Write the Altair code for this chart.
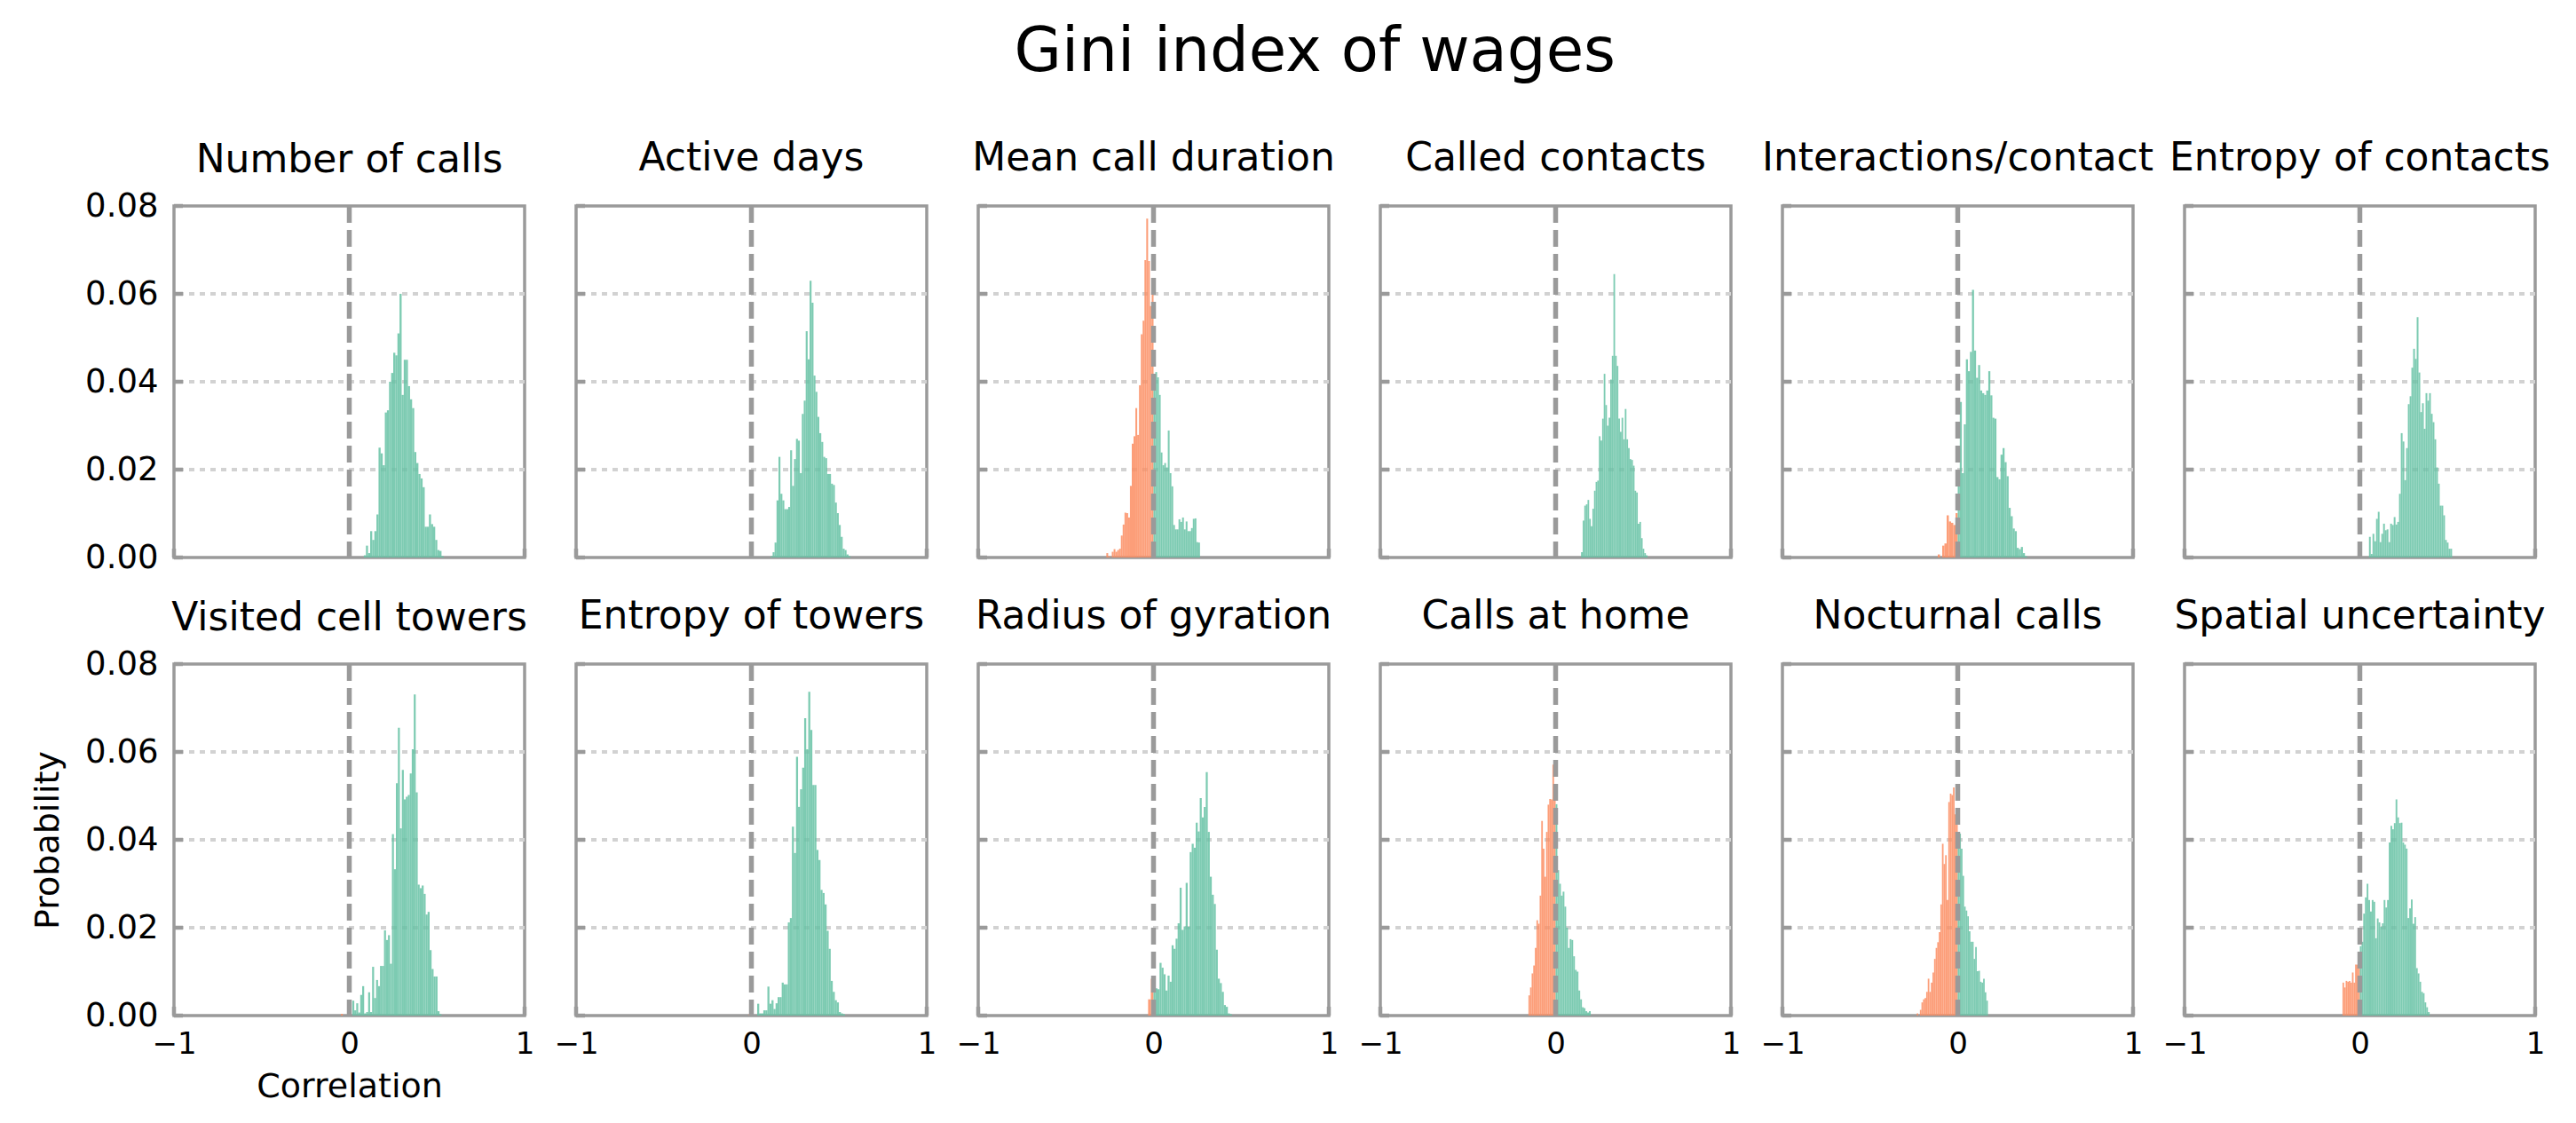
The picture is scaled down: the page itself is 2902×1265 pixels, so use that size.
import altair as alt
import pandas as pd

FONT = "DejaVu Sans"
GREEN = "#66c2a5"
ORANGE = "#fc8d62"
SPINE = "#9a9a9a"

SUPTITLE = "Gini index of wages"
X_TICKS = [-1, 0, 1]
Y_TICKS = [0.0, 0.02, 0.04, 0.06, 0.08]
GRID_LINES = [0.02, 0.04, 0.06]

# ---- histogram bar heights (probability per bin) ----
# each part: (range start, range end, heights left-to-right)
calls_pos = [0.0005, 0.0027, 0.001, 0.006, 0.004, 0.006, 0.0098, 0.025, 0.0237, 0.021, 0.033, 0.0335,
             0.040, 0.042, 0.0466, 0.046, 0.051, 0.060, 0.037, 0.045, 0.045, 0.039, 0.036, 0.034, 0.024,
             0.0215, 0.019, 0.018, 0.016, 0.007, 0.007, 0.0098, 0.0076, 0.007, 0.004, 0.0017, 0.0015, 0.0003]
days_pos = [0.0003, 0.0012, 0.0034, 0.013, 0.0229, 0.0145, 0.013, 0.011, 0.011, 0.0115, 0.0244, 0.0163,
            0.0224, 0.027, 0.0266, 0.0192, 0.0327, 0.0357, 0.0515, 0.0451, 0.063, 0.058, 0.0414, 0.0377,
            0.032, 0.0283, 0.0263, 0.0229, 0.0226, 0.019, 0.019, 0.0168, 0.0165, 0.0125, 0.0101, 0.0074,
            0.0047, 0.002, 0.0017, 0.0007, 0.0003]
duration_neg = [0.001, 0.0003, 0.0, 0.0013, 0.0019, 0.0013, 0.0017, 0.002, 0.005, 0.0075, 0.0102, 0.0101,
                0.0091, 0.0163, 0.0259, 0.0276, 0.034, 0.0279, 0.0392, 0.0508, 0.0539, 0.0677, 0.0771,
                0.0675, 0.0572, 0.0625]
duration_pos = [0.0418, 0.0422, 0.041, 0.037, 0.0239, 0.021, 0.0215, 0.0205, 0.0289, 0.0192, 0.0162, 0.0074,
                0.0064, 0.0064, 0.0087, 0.0081, 0.0091, 0.0064, 0.0082, 0.006, 0.006, 0.0067, 0.0088,
                0.0089, 0.0035, 0.0034]
contacts_pos = [0.0012, 0.0084, 0.0118, 0.0121, 0.0131, 0.0088, 0.0071, 0.0111, 0.0152, 0.0172, 0.0175,
                0.0276, 0.0266, 0.0316, 0.0418, 0.0347, 0.03, 0.0318, 0.0405, 0.0459, 0.0645, 0.0459,
                0.0436, 0.0316, 0.0286, 0.0318, 0.0269, 0.0338, 0.0269, 0.0249, 0.0224, 0.0222, 0.0209,
                0.0152, 0.0148, 0.0077, 0.0081, 0.0044, 0.002, 0.001, 0.0005]
interactions_neg = [0.0007, 0.0, 0.0027, 0.0032, 0.0096, 0.0082, 0.0079, 0.0074, 0.0101]
interactions_pos = [0.0189, 0.0354, 0.0192, 0.0303, 0.0451, 0.0424, 0.0468, 0.0609, 0.0471, 0.0409, 0.0438,
                    0.038, 0.0374, 0.037, 0.038, 0.0424, 0.0369, 0.0318, 0.0316, 0.0183, 0.0178, 0.0234,
                    0.0249, 0.0217, 0.0185, 0.0113, 0.0094, 0.0066, 0.006, 0.0022, 0.0019, 0.0024, 0.001,
                    0.0003]
entropy_contacts_pos = [0.0047, 0.0008, 0.0054, 0.0037, 0.0088, 0.0104, 0.0035, 0.0054, 0.0077, 0.0062,
                        0.0064, 0.0035, 0.0077, 0.0074, 0.0092, 0.0075, 0.0081, 0.0145, 0.0283, 0.0264,
                        0.0176, 0.0249, 0.0349, 0.0367, 0.0432, 0.0475, 0.0452, 0.0547, 0.0421, 0.0331,
                        0.0351, 0.0293, 0.0374, 0.0357, 0.0374, 0.0327, 0.0308, 0.0269, 0.0205, 0.0168,
                        0.0118, 0.0118, 0.0096, 0.004, 0.0034, 0.002, 0.002]
towers_neg = [0.0004]
towers_pos = [0.0034, 0.0012, 0.0028, 0.0007, 0.0047, 0.0067, 0.0005, 0.0008, 0.0053, 0.0008, 0.0111, 0.004,
              0.0081, 0.0067, 0.0113, 0.0113, 0.0194, 0.0172, 0.0183, 0.0118, 0.0413, 0.0333, 0.0529, 0.0655,
              0.0426, 0.0559, 0.0492, 0.0498, 0.0502, 0.0551, 0.0606, 0.0731, 0.0508, 0.0298, 0.029, 0.0296,
              0.0277, 0.023, 0.0236, 0.0149, 0.0106, 0.0089, 0.0089, 0.001, 0.0003]
entropy_towers_neg = [0.0003]
entropy_towers_pos = [0.0027, 0.0005, 0.0005, 0.0012, 0.0012, 0.0066, 0.0027, 0.0035, 0.0015, 0.0028, 0.0042,
                      0.0042, 0.0075, 0.0071, 0.0071, 0.0212, 0.0222, 0.043, 0.037, 0.0589, 0.0475, 0.0515,
                      0.0564, 0.0677, 0.0606, 0.0737, 0.065, 0.0525, 0.0525, 0.0377, 0.0354, 0.0286, 0.0279,
                      0.0253, 0.0193, 0.0152, 0.0079, 0.0054, 0.0035, 0.003, 0.0008, 0.0005, 0.0003]
gyration_neg = [0.0037, 0.0084]
gyration_pos = [0.0054, 0.0062, 0.006, 0.012, 0.0109, 0.0094, 0.0057, 0.0091, 0.0077, 0.016, 0.0152, 0.0175,
                0.021, 0.0291, 0.0195, 0.0203, 0.0302, 0.0202, 0.0372, 0.0391, 0.0382, 0.0439, 0.0419,
                0.0495, 0.0451, 0.0475, 0.0554, 0.0418, 0.0316, 0.0275, 0.0254, 0.015, 0.0084, 0.0074,
                0.0054, 0.0024, 0.002, 0.0005, 0.0003]
home_neg = [0.0046, 0.0064, 0.0096, 0.0114, 0.0154, 0.0217, 0.0209, 0.0273, 0.0443, 0.038, 0.0316, 0.0418,
            0.048, 0.0493, 0.0492, 0.0571, 0.0522]
home_pos = [0.0481, 0.0331, 0.03, 0.0273, 0.0282, 0.0248, 0.020, 0.0154, 0.0174, 0.0172, 0.0135, 0.0104,
            0.01, 0.0057, 0.0037, 0.0019, 0.0017, 0.001, 0.0007, 0.001]
nocturnal_neg = [0.0005, 0.0, 0.0013, 0.003, 0.0037, 0.004, 0.0054, 0.0084, 0.0054, 0.0075, 0.0098, 0.0129,
                 0.0154, 0.0167, 0.019, 0.0253, 0.0391, 0.0345, 0.0365, 0.0263, 0.0486, 0.0505, 0.0502,
                 0.0519, 0.0458, 0.0471]
nocturnal_pos = [0.0416, 0.0414, 0.038, 0.0318, 0.0248, 0.0239, 0.0226, 0.0192, 0.0168, 0.0168, 0.0129,
                 0.0156, 0.0101, 0.0102, 0.0077, 0.0075, 0.0084, 0.0053, 0.0034]
spatial_neg = [0.0075, 0.0064, 0.0079, 0.0077, 0.0079, 0.0075, 0.0098, 0.0075, 0.0116, 0.0116, 0.0128]
spatial_pos = [0.0158, 0.0168, 0.0232, 0.0269, 0.03, 0.0263, 0.0237, 0.0263, 0.0259, 0.0176, 0.0221, 0.0212,
               0.0202, 0.021, 0.0263, 0.0246, 0.0263, 0.0394, 0.0432, 0.0424, 0.0438, 0.0492, 0.0451,
               0.0438, 0.0439, 0.0394, 0.0389, 0.038, 0.0222, 0.0244, 0.0264, 0.0209, 0.0224, 0.0108,
               0.0096, 0.0077, 0.0054, 0.0051, 0.003, 0.0019, 0.0008]

PANELS = [
    ("Number of calls", [(0.083, 0.538, calls_pos)]),
    ("Active days", [(0.110, 0.565, days_pos)]),
    ("Mean call duration", [(-0.269, 0.0, duration_neg), (0.0, 0.265, duration_pos)]),
    ("Called contacts", [(0.145, 0.524, contacts_pos)]),
    ("Interactions/contact", [(-0.114, 0.0, interactions_neg), (0.0, 0.395, interactions_pos)]),
    ("Entropy of contacts", [(0.052, 0.526, entropy_contacts_pos)]),
    ("Visited cell towers", [(-0.047, -0.037, towers_neg), (0.017, 0.526, towers_pos)]),
    ("Entropy of towers", [(-0.015, -0.005, entropy_towers_neg), (0.033, 0.534, entropy_towers_pos)]),
    ("Radius of gyration", [(-0.031, 0.0, gyration_neg), (0.0, 0.447, gyration_pos)]),
    ("Calls at home", [(-0.155, 0.0, home_neg), (0.0, 0.2, home_pos)]),
    ("Nocturnal calls", [(-0.234, 0.0, nocturnal_neg), (0.0, 0.172, nocturnal_pos)]),
    ("Spatial uncertainty", [(-0.099, 0.0, spatial_neg), (0.0, 0.398, spatial_pos)]),
]

W, H = 395, 396
XSCALE = alt.Scale(domain=[-1, 1], nice=False, zero=False)
YSCALE = alt.Scale(domain=[0, 0.08], nice=False)


def bins_frame(parts):
    rows = []
    for lo, hi, heights in parts:
        n = len(heights)
        w = (hi - lo) / n
        for i, p in enumerate(heights):
            a = lo + i * w
            b = a + w
            rows.append({"x0": a, "x1": b, "p": p, "base": 0.0,
                         "side": "neg" if (a + b) / 2 < 0 else "pos"})
    return pd.DataFrame(rows)


def panel(idx, title, parts):
    col, row = idx % 6, idx // 6
    show_y = col == 0
    show_x = row == 1
    # tickCount=2 on [-1, 1] gives the ticks -1, 0, 1
    xaxis = alt.Axis(tickCount=2, tickMinStep=1, labels=show_x, ticks=False, domain=False, grid=False,
                     labelFlush=False, labelOverlap=False, labelBound=False, labelFontSize=34,
                     title="Correlation" if (show_x and col == 0) else None,
                     labelPadding=15, titlePadding=12)
    yaxis = alt.Axis(values=Y_TICKS, format=".2f", labels=show_y, ticks=False, domain=False, grid=False,
                     labelFlush=False, labelOverlap=False, labelFontSize=37,
                     title="Probability" if (show_y and row == 1) else None,
                     labelPadding=18, titlePadding=22)
    grid = alt.Chart(pd.DataFrame({"g": GRID_LINES})).mark_rule(
        color="#d2d2d2", strokeWidth=4, strokeDash=[6, 6]).encode(
        y=alt.Y("g:Q", scale=YSCALE, axis=None))
    bars = alt.Chart(bins_frame(parts)).mark_bar(opacity=0.85, strokeWidth=0).encode(
        x=alt.X("x0:Q", scale=XSCALE, axis=xaxis),
        x2="x1:Q",
        y=alt.Y("p:Q", scale=YSCALE, axis=yaxis),
        y2="base:Q",
        color=alt.Color("side:N", scale=alt.Scale(domain=["neg", "pos"], range=[ORANGE, GREEN]),
                        legend=None),
    )
    zero = alt.Chart(pd.DataFrame({"z": [0.0]})).mark_rule(
        color=SPINE, strokeWidth=5.5, strokeDash=[19, 8]).encode(
        x=alt.X("z:Q", scale=XSCALE, axis=None))
    yt = alt.Chart(pd.DataFrame({"t": Y_TICKS})).mark_rule(color=SPINE, strokeWidth=4.5).encode(
        y=alt.Y("t:Q", scale=YSCALE, axis=None), x=alt.value(0), x2=alt.value(10))
    xt = alt.Chart(pd.DataFrame({"t": X_TICKS})).mark_rule(color=SPINE, strokeWidth=4.5).encode(
        x=alt.X("t:Q", scale=XSCALE, axis=None), y=alt.value(H), y2=alt.value(H - 10))
    # first column: the top y label sticks out above the plot, so pull the title down
    off = 10 if col == 0 else 28
    return alt.layer(grid, bars, zero, yt, xt).resolve_axis(
        x="independent", y="independent"
    ).properties(
        width=W, height=H,
        title=alt.TitleParams(title, fontSize=44, font=FONT, fontWeight="normal",
                              color="black", anchor="middle", frame="group", offset=off),
    )


charts = [panel(i, t, parts) for i, (t, parts) in enumerate(PANELS)]

chart = alt.concat(*charts, columns=6, spacing={"row": 120, "column": 58}, bounds="flush").properties(
    title=alt.TitleParams(SUPTITLE, fontSize=69, font=FONT, fontWeight="normal",
                          color="black", anchor="middle", offset=62, dx=27),
    padding={"left": 25, "top": 16, "right": 10, "bottom": 10},
    background="white",
).configure_view(
    stroke=SPINE, strokeWidth=3.5
).configure_axis(
    labelFont=FONT, labelColor="black",
    titleFont=FONT, titleFontSize=38, titleFontWeight="normal", titleColor="black",
)

chart.save("out.html", embed_options={"renderer": "svg", "actions": False})
